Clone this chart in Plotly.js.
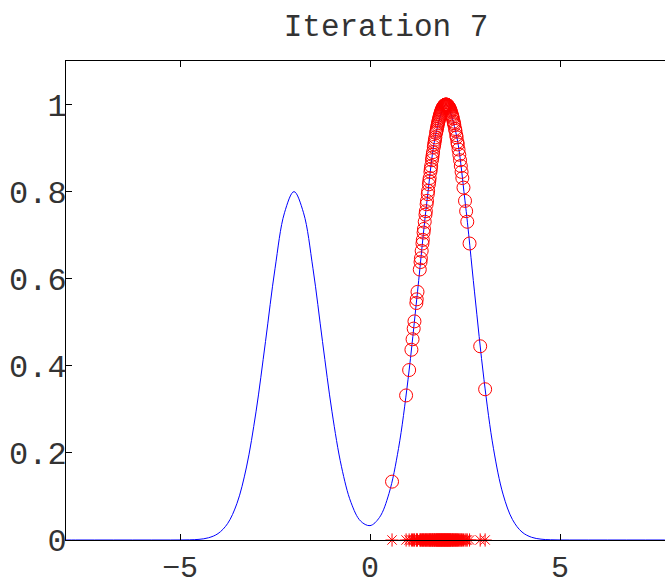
<!DOCTYPE html>
<html>
<head>
<meta charset="utf-8">
<script src="https://cdn.plot.ly/plotly-3.0.1.min.js"></script>
<style>
html, body { margin: 0; padding: 0; overflow: hidden; background: #fff; }
#chart { width: 665px; height: 585px; }
</style>
</head>
<body>
<div id="chart"></div>
<script>
// Blue density curve
const curveX = [-8, -7.75, -7.5, -7.25, -7, -6.75, -6.5, -6.25, -6, -5.75, -5.5, -5.25, -5, -4.75, -4.5, -4.25,
  -4, -3.75, -3.5, -3.25, -3, -2.75, -2.5, -2.25, -2, -1.75, -1.5, -1.25, -1, -0.75, -0.5, -0.25,
  0, 0.25, 0.5, 0.75, 1, 1.25, 1.5, 1.75, 2, 2.25, 2.5, 2.75, 3, 3.25, 3.5, 3.75,
  4, 4.25, 4.5, 4.75, 5, 5.25, 5.5, 5.75, 6, 6.25, 6.5, 6.75, 7, 7.25, 7.5, 7.75, 8];
const curveY = [0, 0, 0, 0, 0, 0, 0, 0, 0, 0, 0, 0, 0.0001, 0.0004, 0.0015, 0.0051,
  0.0147, 0.0374, 0.0843, 0.1677, 0.2943, 0.4558, 0.6230, 0.7515, 0.8, 0.7515, 0.6230, 0.4558, 0.2944, 0.1682, 0.0862, 0.0437,
  0.0330, 0.0519, 0.1069, 0.2100, 0.3680, 0.5698, 0.7788, 0.9394, 1.0, 0.9394, 0.7788, 0.5698, 0.3679, 0.2096, 0.1054, 0.0468,
  0.0183, 0.0063, 0.0019, 0.0005, 0.0001, 0, 0, 0, 0, 0, 0, 0, 0, 0, 0, 0, 0];

// Samples (red circles on curve, red asterisks on axis)
const sampleX = [0.58, 0.95, 1.03, 1.09, 1.12, 1.15, 1.17, 1.22, 1.23, 1.25, 1.31, 1.33, 1.34, 1.36, 1.38, 1.39,
  1.41, 1.42, 1.44, 1.46, 1.47, 1.49, 1.50, 1.52, 1.53, 1.55, 1.56, 1.57, 1.59, 1.60, 1.61, 1.63,
  1.64, 1.65, 1.66, 1.68, 1.69, 1.70, 1.71, 1.72, 1.74, 1.75, 1.76, 1.77, 1.78, 1.79, 1.80, 1.81,
  1.82, 1.83, 1.84, 1.85, 1.86, 1.87, 1.88, 1.89, 1.90, 1.91, 1.92, 1.93, 1.94, 1.95, 1.96, 1.97,
  1.98, 1.99, 2.00, 2.01, 2.02, 2.03, 2.04, 2.05, 2.06, 2.07, 2.08, 2.09, 2.10, 2.11, 2.12, 2.13,
  2.15, 2.16, 2.17, 2.18, 2.20, 2.21, 2.22, 2.24, 2.25, 2.27, 2.28, 2.30, 2.31, 2.33, 2.35, 2.37,
  2.39, 2.41, 2.43, 2.46, 2.50, 2.53, 2.56, 2.62, 2.90, 3.03];
const sampleY = [0.134, 0.3320, 0.3903, 0.4369, 0.4610, 0.4855, 0.5021, 0.5442, 0.5527, 0.5698, 0.6212, 0.6383, 0.6469, 0.6639, 0.6809, 0.6893,
  0.7060, 0.7143, 0.7308, 0.7471, 0.7551, 0.7710, 0.7788, 0.7942, 0.8018, 0.8167, 0.8240, 0.8312, 0.8453, 0.8521, 0.8589, 0.8721,
  0.8784, 0.8847, 0.8908, 0.9027, 0.9084, 0.9139, 0.9193, 0.9246, 0.9346, 0.9394, 0.9440, 0.9485, 0.9528, 0.9569, 0.9608, 0.9645,
  0.9681, 0.9715, 0.9747, 0.9778, 0.9806, 0.9832, 0.9857, 0.9880, 0.9900, 0.9919, 0.9936, 0.9951, 0.9964, 0.9975, 0.9984, 0.9991,
  0.9996, 0.9999, 1.0, 0.9999, 0.9996, 0.9991, 0.9984, 0.9975, 0.9964, 0.9951, 0.9936, 0.9919, 0.9900, 0.9880, 0.9857, 0.9832,
  0.9778, 0.9747, 0.9715, 0.9681, 0.9608, 0.9569, 0.9528, 0.9440, 0.9394, 0.9297, 0.9246, 0.9139, 0.9084, 0.8968, 0.8847, 0.8721,
  0.8589, 0.8453, 0.8312, 0.8093, 0.7788, 0.7551, 0.7308, 0.6809, 0.4449, 0.3462];
const sampleBase = sampleX.map(() => 0);

const xTicks = [-5, 0, 5];
const yTicks = [0, 0.2, 0.4, 0.6, 0.8, 1];
const titleText = 'Iteration 7';

const monoFont = 'Liberation Mono, Courier New, monospace';
const textColor = '#333333';

const traces = [
  { x: curveX, y: curveY, type: 'scatter', mode: 'lines',
    line: { color: '#0000ff', width: 1, shape: 'spline', smoothing: 1 }, hoverinfo: 'skip' },
  { x: sampleX, y: sampleY, type: 'scatter', mode: 'markers',
    marker: { symbol: 'circle-open', size: 13, color: '#ff0000', line: { width: 1, color: '#ff0000' } } },
  { x: sampleX, y: sampleBase, type: 'scatter', mode: 'markers', cliponaxis: false,
    marker: { symbol: 'asterisk-open', size: 11, color: '#ff0000', line: { width: 1, color: '#ff0000' } } }
];

const axisCommon = {
  showgrid: false, zeroline: false, showline: true, linecolor: '#000', linewidth: 1,
  ticks: 'inside', ticklen: 6, tickcolor: '#000', tickwidth: 1,
  tickfont: { family: monoFont, size: 32, color: textColor }
};

const layout = {
  width: 665, height: 585,
  margin: { l: 66, r: 0, t: 61, b: 45 },
  paper_bgcolor: '#fff', plot_bgcolor: '#fff',
  showlegend: false,
  title: { text: titleText, font: { family: monoFont, size: 31, color: textColor },
           x: (386 - 66) / 599, xref: 'paper', xanchor: 'center', y: 1 - 25 / 585, yanchor: 'middle' },
  xaxis: Object.assign({}, axisCommon, { mirror: 'ticks', range: [-8, 7.763], tickvals: xTicks,
           tickfont: { family: monoFont, size: 30, color: textColor },
           ticktext: xTicks.map(v => v < 0 ? '\u2212' + Math.abs(v) : String(v)), ticklabelstandoff: 0 }),
  yaxis: Object.assign({}, axisCommon, { mirror: false, range: [0, 1.1], tickvals: yTicks, ticklabelstandoff: -8 })
};

Plotly.newPlot('chart', traces, layout, { staticPlot: true, displayModeBar: false });
</script>
</body>
</html>
